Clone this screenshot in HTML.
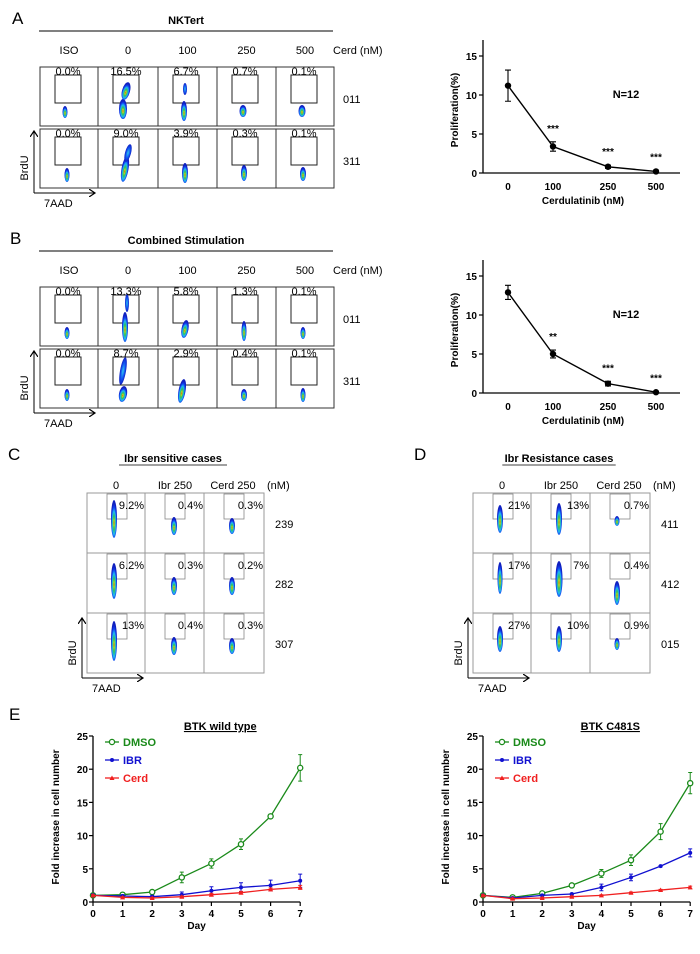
<!DOCTYPE html>
<html><head><meta charset="utf-8">
<style>
html,body{margin:0;padding:0;background:#fff;}
svg{display:block;font-family:"Liberation Sans",sans-serif;}
</style></head>
<body>
<svg id="fig" width="700" height="954" viewBox="0 0 700 954" xmlns="http://www.w3.org/2000/svg">
<defs>
<radialGradient id="blob" cx="50%" cy="60%" r="50%">
<stop offset="0%" stop-color="#e03010"/>
<stop offset="15%" stop-color="#c8d820"/>
<stop offset="35%" stop-color="#30c060"/>
<stop offset="60%" stop-color="#20b8f0"/>
<stop offset="82%" stop-color="#1040f0"/>
<stop offset="100%" stop-color="#1020c0"/>
</radialGradient>
<radialGradient id="blobB" cx="50%" cy="50%" r="50%">
<stop offset="0%" stop-color="#30c8f0"/>
<stop offset="60%" stop-color="#1050f0"/>
<stop offset="100%" stop-color="#1020c0"/>
</radialGradient>
<marker id="arr" markerWidth="8" markerHeight="8" refX="6" refY="4" orient="auto"><path d="M0,0 L6,4 L0,8" fill="none" stroke="#000" stroke-width="1.2"/></marker>
</defs>

<text x="12" y="24" font-size="17">A</text>
<text x="10" y="244" font-size="17">B</text>
<text x="8" y="460" font-size="17">C</text>
<text x="414" y="460" font-size="17">D</text>
<text x="9" y="720" font-size="17">E</text>

<g id="flows"></g>
<g id="charts"></g>
</svg>
<script>
// ===== Proliferation chart data =====
const prolifCats = ["0","100","250","500"];
const prolifA = [11.2, 3.4, 0.8, 0.2];
const prolifAErr = [2.0, 0.6, 0.2, 0.1];
const prolifAStars = ["", "***", "***", "***"];
const prolifB = [12.9, 5.0, 1.2, 0.1];
const prolifBErr = [0.9, 0.5, 0.3, 0.1];
const prolifBStars = ["", "**", "***", "***"];
const prolifTicks = [0, 5, 10, 15];

// ===== Growth chart data =====
const days = [0,1,2,3,4,5,6,7];
const growthTicks = [0,5,10,15,20,25];
const wtDMSO = [1.0,1.1,1.5,3.7,5.8,8.7,12.9,20.2];
const wtDMSOErr = [0.2,0.2,0.2,0.8,0.7,0.8,0.3,2.0];
const wtIBR = [1.0,0.9,0.8,1.1,1.7,2.2,2.5,3.2];
const wtIBRErr = [0.2,0.2,0.2,0.4,0.6,0.7,0.8,1.0];
const wtCerd = [1.0,0.7,0.6,0.8,1.1,1.4,1.9,2.2];
const wtCerdErr = [0.1,0.1,0.1,0.1,0.2,0.2,0.2,0.3];
const mutDMSO = [1.0,0.7,1.3,2.5,4.3,6.3,10.6,17.9];
const mutDMSOErr = [0.2,0.2,0.2,0.2,0.6,0.8,1.2,1.6];
const mutIBR = [1.0,0.6,1.0,1.2,2.2,3.7,5.4,7.4];
const mutIBRErr = [0.1,0.1,0.1,0.1,0.5,0.5,0.1,0.6];
const mutCerd = [1.0,0.5,0.6,0.8,1.0,1.4,1.8,2.2];
const mutCerdErr = [0.1,0.1,0.1,0.1,0.1,0.1,0.1,0.2];

// ===== Flow panel labels =====
const flowHeaders = ["ISO","0","100","250","500"];
const pctA1 = ["0.0%","16.5%","6.7%","0.7%","0.1%"];
const pctA2 = ["0.0%","9.0%","3.9%","0.3%","0.1%"];
const pctB1 = ["0.0%","13.3%","5.8%","1.3%","0.1%"];
const pctB2 = ["0.0%","8.7%","2.9%","0.4%","0.1%"];
const pctC = [["9.2%","0.4%","0.3%"],["6.2%","0.3%","0.2%"],["13%","0.4%","0.3%"]];
const pctD = [["21%","13%","0.7%"],["17%","7%","0.4%"],["27%","10%","0.9%"]];

const NS = "http://www.w3.org/2000/svg";
function mk(tag, attrs, parent, text){
  const e = document.createElementNS(NS, tag);
  for (const k in attrs) e.setAttribute(k, attrs[k]);
  if (text !== undefined) e.textContent = text;
  parent.appendChild(e);
  return e;
}
const flows = document.getElementById('flows');
const charts = document.getElementById('charts');

function blobs(g, x, y, list){
  list.forEach(b => {
    const e = mk('ellipse', {cx:x+b[0], cy:y+b[1], rx:b[2], ry:b[3], fill: b[4] ? 'url(#blobB)' : 'url(#blob)', transform:'rotate('+(b[5]||0)+' '+(x+b[0])+' '+(y+b[1])+')'}, g);
    
    
  });
}

function axesArrows(g, x, y, ytop, xr, nameP){
  const v = mk('line', {x1:x, y1:y, x2:x, y2:ytop, stroke:'#000', 'stroke-width':1, 'marker-end':'url(#arr)'}, g);
  
  
  const h = mk('line', {x1:x, y1:y, x2:xr, y2:y, stroke:'#000', 'stroke-width':1, 'marker-end':'url(#arr)'}, g);
  
  
  const bt = mk('text', {x:0, y:0, 'font-size':11, 'text-anchor':'middle', transform:'translate('+(x-6)+','+(y-25)+') rotate(-90)'}, g, 'BrdU');
  
  
  const at = mk('text', {x:x+10, y:y+14, 'font-size':11}, g, '7AAD');
  
  
}

// ----- Panels A and B flow grids -----
function bigGrid(oy, title, p1, p2, blobs1, blobs2, nameP){
  const g = mk('g', {}, flows);
  
  
  const t = mk('text', {x:186, y:oy+24, 'font-size':11, 'font-weight':'bold', 'text-anchor':'middle'}, g, title);
  
  
  const l = mk('line', {x1:39, y1:oy+31, x2:333, y2:oy+31, stroke:'#000', 'stroke-width':1}, g);
  
  
  const cx = [40, 98, 158, 217, 276];
  const w = [58, 60, 59, 59, 58];
  flowHeaders.forEach((h,i) => {
    const ht = mk('text', {x:cx[i]+w[i]/2, y:oy+54, 'font-size':11, 'text-anchor':'middle'}, g, h);
    
    
  });
  const cu = mk('text', {x:333, y:oy+54, 'font-size':11}, g, 'Cerd (nM)');
  
  
  const rows = [[oy+67, 59, p1, blobs1, '011'], [oy+129, 59, p2, blobs2, '311']];
  rows.forEach(r => {
    for (let i=0;i<5;i++){
      const x = cx[i], y = r[0];
      const c = mk('rect', {x:x, y:y, width:w[i], height:r[1], fill:'#fff', stroke:'#333', 'stroke-width':1}, g);
      
      
      const gate = mk('rect', {x:x+15, y:y+8, width:26, height:28, fill:'none', stroke:'#222', 'stroke-width':1}, g);
      
      
      blobs(g, x, y, r[3][i]);
      const pt = mk('text', {x:x+28, y:y+8, 'font-size':11, 'text-anchor':'middle'}, g, r[2][i]);
      
      
    }
    const rl = mk('text', {x:343, y:r[0]+36, 'font-size':11}, g, r[4]);
    
    
  });
  axesArrows(g, 34, oy+193, oy+131, 95, nameP);
}
bigGrid(0, 'NKTert', pctA1, pctA2,
  [[[25,45,2.5,6]], [[25,42,4,10],[28,24,4,9,0,15]], [[26,44,3,10],[27,22,2,6,1]], [[26,44,3.5,6]], [[26,44,3.5,6]]],
  [[[27,46,2.5,7]], [[27,40,3.5,13,0,10],[30,24,3,9,1,15]], [[27,44,3,10]], [[27,44,3,8]], [[27,45,3,7]]], 'a');
bigGrid(220, 'Combined  Stimulation', pctB1, pctB2,
  [[[27,46,2.5,6]], [[27,40,3,15],[29,16,2,9,1]], [[27,42,3.5,9,0,10]], [[27,44,2.5,10]], [[27,46,2.5,6]]],
  [[[27,46,2.5,6]], [[25,45,4,8,0,10],[25,22,3,14,1,10]], [[24,42,3.5,12,0,10]], [[27,46,3,6]], [[27,46,2.5,7]]], 'b');

// ----- Panels C and D small flow grids -----
function smallGrid(ox, title, pcts, ids, blobSet, nameP){
  const g = mk('g', {}, flows);
  
  
  const cx = [ox, ox+58, ox+117];
  const w = [58, 59, 60];
  const t = mk('text', {x:ox+86, y:462, 'font-size':11, 'font-weight':'bold', 'text-anchor':'middle'}, g, title);
  
  
  const tw = title.length*5.4;
  const ul = mk('line', {x1:ox+86-tw/2, y1:465, x2:ox+86+tw/2, y2:465, stroke:'#000', 'stroke-width':0.8}, g);
  
  
  const hdr = ["0","Ibr 250","Cerd 250"];
  const hx = [ox+29, ox+88, ox+146];
  hdr.forEach((h,i) => {
    const ht = mk('text', {x:hx[i], y:489, 'font-size':11, 'text-anchor':'middle'}, g, h);
    
    
  });
  const nm = mk('text', {x:ox+180, y:489, 'font-size':11}, g, '(nM)');
  
  
  const ry = [493, 553, 613];
  for (let r=0;r<3;r++){
    for (let i=0;i<3;i++){
      const x = cx[i], y = ry[r];
      const c = mk('rect', {x:x, y:y, width:w[i], height:60, fill:'#fff', stroke:'#999', 'stroke-width':1}, g);
      
      
      const gate = mk('rect', {x:x+20, y:y+1, width:20, height:25, fill:'none', stroke:'#888', 'stroke-width':0.8}, g);
      
      
      blobs(g, x, y, blobSet[r][i]);
      const pt = mk('text', {x:x+w[i]-1, y:y+16, 'font-size':11, 'text-anchor':'end'}, g, pcts[r][i]);
      
      
    }
    const rl = mk('text', {x:ox+188, y:ry[r]+35, 'font-size':11}, g, ids[r]);
    
    
  }
  axesArrows(g, ox-5, 678, 618, ox+56, nameP);
}
smallGrid(87, 'Ibr sensitive  cases', pctC, ["239","282","307"],
  [[[[27,26,3,19]],[[29,33,3,9]],[[28,33,3,8]]],
   [[[27,28,3,18]],[[29,33,3,9]],[[28,33,3,9]]],
   [[[27,28,3,20]],[[29,33,3,9]],[[28,33,3,8]]]], 'c');
smallGrid(473, 'Ibr Resistance  cases', pctD, ["411","412","015"],
  [[[[27,26,3,14]],[[28,26,3,16]],[[27,28,2.5,5]]],
   [[[27,25,2.5,16]],[[28,26,3.5,18]],[[27,40,3,12]]],
   [[[27,26,3,13]],[[28,26,3,13]],[[27,31,2.5,6]]]], 'd');

// ----- Proliferation charts -----
function prolifChart(oy, vals, errs, stars, nameP){
  const g = mk('g', {}, charts);
  
  
  const x0 = 483, yb = oy+173, yt = oy+40;
  const ys = v => yb - v*(117/15);
  const catX = [508, 553, 608, 656];
  const xs = i => catX[i];
  const ya = mk('line', {x1:x0, y1:yt, x2:x0, y2:yb, stroke:'#000', 'stroke-width':1.3}, g);
  
  
  const xa = mk('line', {x1:x0, y1:yb, x2:680, y2:yb, stroke:'#000', 'stroke-width':1.3}, g);
  
  
  prolifTicks.forEach(t => {
    const tk = mk('line', {x1:x0-4, y1:ys(t), x2:x0, y2:ys(t), stroke:'#000', 'stroke-width':1.2}, g);
    
    
    const tl = mk('text', {x:x0-6, y:ys(t)+4, 'font-size':10, 'font-weight':'bold', 'text-anchor':'end'}, g, String(t));
    
    
  });
  prolifCats.forEach((c,i) => {
    const tl = mk('text', {x:xs(i), y:yb+17, 'font-size':10, 'font-weight':'bold', 'text-anchor':'middle'}, g, c);
    
    
  });
  const xl = mk('text', {x:583, y:oy+204, 'font-size':10, 'font-weight':'bold', 'text-anchor':'middle'}, g, 'Cerdulatinib (nM)');
  
  
  const yl = mk('text', {x:0, y:0, 'font-size':10, 'font-weight':'bold', 'text-anchor':'middle', transform:'translate(458,'+(oy+110)+') rotate(-90)'}, g, 'Proliferation(%)');
  
  
  const n = mk('text', {x:626, y:oy+98, 'font-size':11, 'font-weight':'bold', 'text-anchor':'middle'}, g, 'N=12');
  
  
  const line = mk('polyline', {points: vals.map((v,i)=>xs(i)+','+ys(v)).join(' '), fill:'none', stroke:'#000', 'stroke-width':1.4}, g);
  
  
  vals.forEach((v,i) => {
    const e = errs[i];
    const eb = mk('path', {d:'M'+xs(i)+','+ys(v+e)+'V'+ys(Math.max(0,v-e))+'M'+(xs(i)-3)+','+ys(v+e)+'h6M'+(xs(i)-3)+','+ys(Math.max(0,v-e))+'h6', stroke:'#000', 'stroke-width':1.1, fill:'none'}, g);
    
    
    const p = mk('circle', {cx:xs(i), cy:ys(v), r:3.2, fill:'#000'}, g);
    
    
    if (stars[i]) {
      const s = mk('text', {x:xs(i), y:ys(v+e)-10, 'font-size':10, 'font-weight':'bold', 'text-anchor':'middle'}, g, stars[i]);
      
      
    }
  });
}
prolifChart(0, prolifA, prolifAErr, prolifAStars, 'a');
prolifChart(220, prolifB, prolifBErr, prolifBStars, 'b');

// ----- Growth charts -----
function growthChart(x0, title, series, nameP){
  const g = mk('g', {}, charts);
  
  
  const yb = 902, step = 29.6;
  const ys = v => yb - v*(166/25);
  const xs = d => x0 + d*step;
  const ya = mk('line', {x1:x0, y1:ys(25), x2:x0, y2:yb, stroke:'#000', 'stroke-width':1.3}, g);
  
  
  const xa = mk('line', {x1:x0, y1:yb, x2:xs(7), y2:yb, stroke:'#000', 'stroke-width':1.3}, g);
  
  
  growthTicks.forEach(t => {
    const tk = mk('line', {x1:x0-4, y1:ys(t), x2:x0, y2:ys(t), stroke:'#000', 'stroke-width':1.2}, g);
    
    
    const tl = mk('text', {x:x0-5, y:ys(t)+4, 'font-size':10, 'font-weight':'bold', 'text-anchor':'end'}, g, String(t));
    
    
  });
  days.forEach(d => {
    const tk = mk('line', {x1:xs(d), y1:yb, x2:xs(d), y2:yb+4, stroke:'#000', 'stroke-width':1.2}, g);
    
    
    const tl = mk('text', {x:xs(d), y:yb+15, 'font-size':10, 'font-weight':'bold', 'text-anchor':'middle'}, g, String(d));
    
    
  });
  const xl = mk('text', {x:xs(3.5), y:929, 'font-size':10, 'font-weight':'bold', 'text-anchor':'middle'}, g, 'Day');
  
  
  const yl = mk('text', {x:0, y:0, 'font-size':10, 'font-weight':'bold', 'text-anchor':'middle', transform:'translate('+(x0-34)+',817) rotate(-90)'}, g, 'Fold increase in cell number');
  
  
  const tt = mk('text', {x:xs(4.3), y:730, 'font-size':11, 'font-weight':'bold', 'text-anchor':'middle', 'text-decoration':'underline'}, g, title);
  
  
  series.forEach((s, si) => {
    const sg = mk('g', {}, g);
    
    
    const pl = mk('polyline', {points: s.v.map((v,i)=>xs(days[i])+','+ys(v)).join(' '), fill:'none', stroke:s.c, 'stroke-width':1.3}, sg);
    
    
    s.v.forEach((v,i) => {
      const e = s.e[i], x = xs(days[i]);
      const eb = mk('path', {d:'M'+x+','+ys(v+e)+'V'+ys(v-e)+'M'+(x-2)+','+ys(v+e)+'h4M'+(x-2)+','+ys(v-e)+'h4', stroke:s.c, 'stroke-width':1, fill:'none'}, sg);
      
      
      let m;
      if (si === 0) m = mk('circle', {cx:x, cy:ys(v), r:2.6, fill:'#fff', stroke:s.c, 'stroke-width':1.3}, sg);
      else if (si === 1) m = mk('circle', {cx:x, cy:ys(v), r:2, fill:s.c}, sg);
      else m = mk('path', {d:'M'+(x-2.5)+','+(ys(v)+2)+'L'+x+','+(ys(v)-2.5)+'L'+(x+2.5)+','+(ys(v)+2)+'Z', fill:s.c}, sg);
      
      
    });
    const ly = 746 + si*18, lx = x0 + 19;
    const ll = mk('line', {x1:lx-7, y1:ly-4, x2:lx+7, y2:ly-4, stroke:s.c, 'stroke-width':1.3}, g);
    
    
    let lm;
    if (si === 0) lm = mk('circle', {cx:lx, cy:ly-4, r:2.6, fill:'#fff', stroke:s.c, 'stroke-width':1.3}, g);
    else if (si === 1) lm = mk('circle', {cx:lx, cy:ly-4, r:2, fill:s.c}, g);
    else lm = mk('path', {d:'M'+(lx-2.5)+','+(ly-2)+'L'+lx+','+(ly-6.5)+'L'+(lx+2.5)+','+(ly-2)+'Z', fill:s.c}, g);
    
    
    const lt = mk('text', {x:lx+11, y:ly, 'font-size':11, 'font-weight':'bold', fill:s.c}, g, s.name);
    
    
  });
}
growthChart(93, 'BTK wild type', [
  {name:'DMSO', v:wtDMSO, e:wtDMSOErr, c:'#1a8a1a'},
  {name:'IBR', v:wtIBR, e:wtIBRErr, c:'#1010d0'},
  {name:'Cerd', v:wtCerd, e:wtCerdErr, c:'#f02020'}], 'wt');
growthChart(483, 'BTK C481S', [
  {name:'DMSO', v:mutDMSO, e:mutDMSOErr, c:'#1a8a1a'},
  {name:'IBR', v:mutIBR, e:mutIBRErr, c:'#1010d0'},
  {name:'Cerd', v:mutCerd, e:mutCerdErr, c:'#f02020'}], 'mut');
</script>
</body></html>
